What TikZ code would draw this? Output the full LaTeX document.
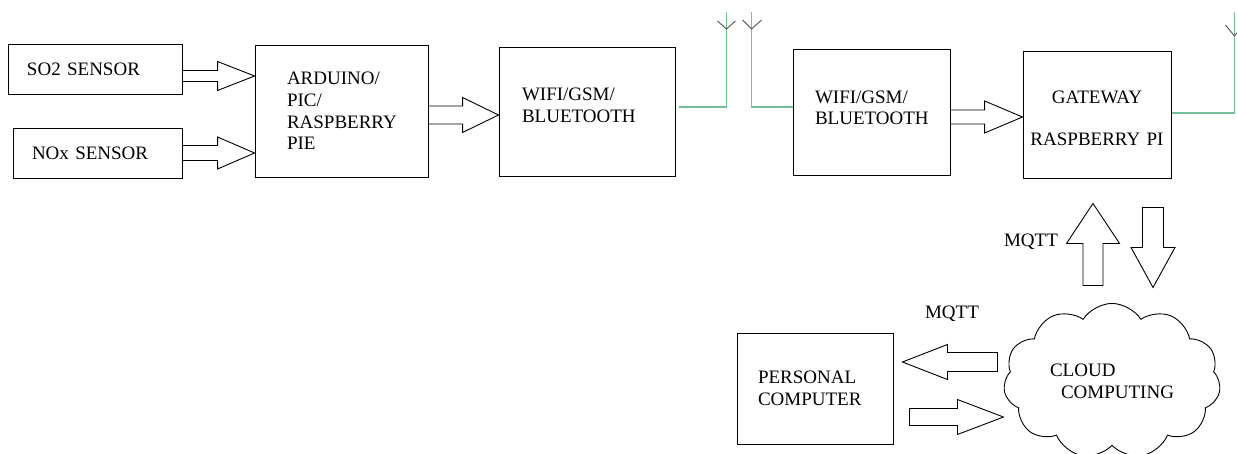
\documentclass[tikz,border=0pt]{standalone}
\usepackage{fontspec}
\setmainfont{Liberation Serif}
\usetikzlibrary{arrows,positioning,calc,shapes.symbols}
\definecolor{antgreen}{RGB}{118,190,150}
\definecolor{antgray}{RGB}{95,95,95}
% block arrow: [head length]{shaft half width}{head half width}{from}{to}
\newcommand{\fatarrow}[5][38pt]{%
  \path (#4) coordinate (fa-s);
  \path (#5) coordinate (fa-t);
  \path ($(fa-t)!#1!(fa-s)$) coordinate (fa-h);
  \draw[fill=white] ($(fa-s)!#2!90:(fa-t)$) -- ($(fa-h)!#2!90:(fa-t)$) -- ($(fa-h)!#3!90:(fa-t)$) -- (fa-t)
    -- ($(fa-h)!#3!-90:(fa-t)$) -- ($(fa-h)!#2!-90:(fa-t)$) -- ($(fa-s)!#2!-90:(fa-t)$) -- cycle;}

\begin{document}
\begin{tikzpicture}[x=1pt, y=-1pt, line width=0.9pt,
 blk/.style={draw, align=left, font=\fontsize{19}{21.7}\selectfont},
 txt/.style={font=\fontsize{19}{21.7}\selectfont},
 ant/.style={draw=antgreen, line width=1.4pt},
 antv/.style={draw=antgray, line width=1pt}]
 \useasboundingbox (0,0) rectangle (1237,453);
 \node[blk, inner xsep=19pt, text width=136pt, minimum height=50pt] (so2) at (95, 69) {SO2 SENSOR};
 \node[blk, inner xsep=19pt, text width=131pt, minimum height=50pt] (nox) at (97.5, 153) {NOx SENSOR};
 \node[blk, inner xsep=32pt, text width=109pt, minimum height=132pt] (ard) at (341.5, 111) {ARDUINO/\\PIC/\\RASPBERRY\\PIE};
 \node[blk, inner xsep=23pt, text width=130pt, minimum height=129pt, text depth=34pt] (wifiA) at (587, 111.5) {WIFI/GSM/\\BLUETOOTH};
 \node[blk, inner xsep=22pt, text width=113pt, minimum height=126pt, text depth=30.5pt] (wifiB) at (871.5, 112) {WIFI/GSM/\\BLUETOOTH};
 \node[blk, align=center, inner xsep=6pt, text width=136pt, minimum height=127pt, text depth=35.5pt] (gw) at (1097, 114.5) {GATEWAY\\[21pt]RASPBERRY PI};
 \node[blk, inner xsep=21pt, text width=114pt, minimum height=111pt] (pc) at (815, 388.5) {PERSONAL\\COMPUTER};
 \node[blk, cloud, cloud puffs=11, cloud puff arc=115, aspect=1.4, minimum width=217pt, minimum height=155pt]
  (cloud) at (1112, 381) {CLOUD\\\hspace*{11pt}COMPUTING};
 \node[txt] (mqttA) at (1031, 242) {MQTT};
 \node[txt] (mqttB) at (952, 314) {MQTT};
 % sensor and board arrows
 \fatarrow[37pt]{5.5pt}{14.5pt}{[yshift=-7pt]so2.east}{ard.west |- fa-s}
 \fatarrow[37pt]{7.5pt}{16pt}{nox.east}{ard.west |- fa-s}
 \fatarrow[36pt]{9pt}{17.5pt}{[yshift=-4pt]ard.east}{wifiA.west |- fa-s}
 \fatarrow{7pt}{16pt}{[yshift=-5pt]wifiB.east}{gw.west |- fa-s}
 % mqtt arrows
 \fatarrow[40pt]{10pt}{26.5pt}{$(gw.south)+(-4,107)$}{$(gw.south)+(-4,25)$}
 \fatarrow[40pt]{10.5pt}{22pt}{$(gw.south)+(56,29)$}{$(gw.south)+(56,109)$}
 \fatarrow[45pt]{9.5pt}{17.5pt}{$(pc.east)+(104,-26.5)$}{$(pc.east)+(9,-26.5)$}
 \fatarrow[46pt]{8.5pt}{17.5pt}{$(pc.east)+(16,28.5)$}{$(pc.east)+(110,28.5)$}
 % antennas
 \draw[ant] ($(wifiA.east)+(4,-4.5)$) -| ++(47,-95) coordinate (antA);
 \draw[ant] ($(wifiB.west)+(0,-5)$) -| ++(-41,-95) coordinate (antB);
 \draw[ant] ($(gw.east)+(1,-1.5)$) -| ++(62,-101) coordinate (antC);
 \draw[antv] ($(antA)+(-9,9)$) -- ($(antA)+(0,17)$) -- ($(antA)+(9,9)$);
 \draw[antv] ($(antB)+(-9,8)$) -- ($(antB)+(0,17)$) -- ($(antB)+(10,8)$);
 \draw[antv] ($(antC)+(-9,13)$) -- ($(antC)+(0,24)$) -- ($(antC)+(9,13)$);
\end{tikzpicture}
\end{document}
